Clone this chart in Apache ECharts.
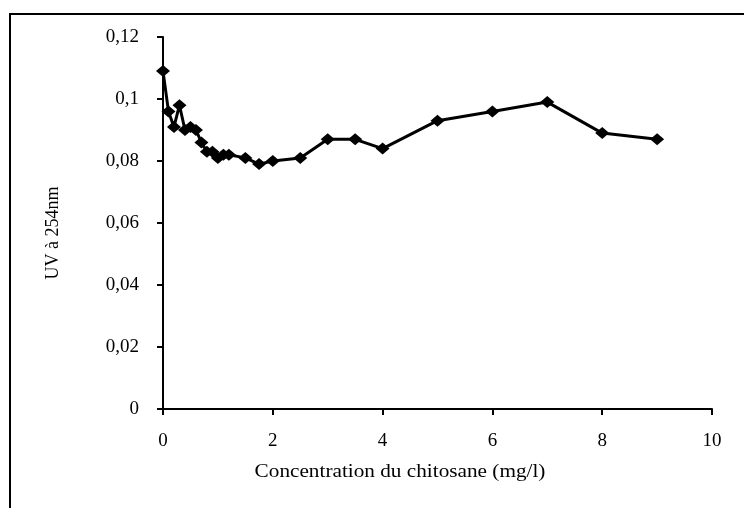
<!DOCTYPE html>
<html><head><meta charset="utf-8">
<script src="https://cdn.jsdelivr.net/npm/echarts@6/dist/echarts.min.js"></script>
<style>html,body{margin:0;padding:0;background:#fff}#c{width:744px;height:508px}</style>
</head><body><div id="c"></div>
<script>
const concentration = [0, 0.1, 0.2, 0.3, 0.4, 0.5, 0.6, 0.7, 0.8, 0.9, 1.0, 1.1, 1.2, 1.5, 1.75, 2, 2.5, 3, 3.5, 4, 5, 6, 7, 8, 9];
const uv254 = [0.109, 0.096, 0.091, 0.098, 0.090, 0.091, 0.090, 0.086, 0.083, 0.083, 0.081, 0.082, 0.082, 0.081, 0.079, 0.080, 0.081, 0.087, 0.087, 0.084, 0.093, 0.096, 0.099, 0.089, 0.087];
const xTitle = 'Concentration du chitosane (mg/l)';
const yTitle = 'UV à 254nm';

const font = '"Liberation Serif", "Times New Roman", serif';
const chart = echarts.init(document.getElementById('c'));
chart.setOption({
  animation: false,
  backgroundColor: '#fff',
  grid: {left: 163, right: 32, top: 37, bottom: 99},
  xAxis: {
    type: 'value', min: 0, max: 10, interval: 2,
    axisLine: {show: true, lineStyle: {color: '#000', width: 2}},
    axisTick: {show: true, length: 6, lineStyle: {color: '#000', width: 2}},
    splitLine: {show: false},
    axisLabel: {color: '#000', fontFamily: font, fontSize: 19, margin: 23}
  },
  yAxis: {
    type: 'value', min: 0, max: 0.12, interval: 0.02,
    axisLine: {show: true, lineStyle: {color: '#000', width: 2}},
    axisTick: {show: true, length: 6, lineStyle: {color: '#000', width: 2}},
    splitLine: {show: false},
    axisLabel: {color: '#000', fontFamily: font, fontSize: 19, margin: 24,
      formatter: v => String(parseFloat(v.toFixed(3))).replace('.', ',')}
  },
  series: [{
    type: 'line',
    data: concentration.map((x, i) => [x, uv254[i]]),
    symbol: 'diamond', symbolSize: [14, 12],
    itemStyle: {color: '#000'},
    lineStyle: {color: '#000', width: 3},
    z: 5
  }],
  graphic: [
    {type: 'rect', shape: {x: 10, y: 14, width: 900, height: 700}, style: {fill: 'none', stroke: '#000', lineWidth: 2}, silent: true},
    {type: 'text', x: 400, y: 472, scaleX: 1.18, style: {text: xTitle, font: '18px ' + font, fill: '#000', textAlign: 'center', textVerticalAlign: 'middle'}},
    {type: 'text', x: 53, y: 233, rotation: Math.PI / 2, style: {text: yTitle, font: '18px ' + font, fill: '#000', textAlign: 'center', textVerticalAlign: 'middle'}}
  ]
});
</script></body></html>
